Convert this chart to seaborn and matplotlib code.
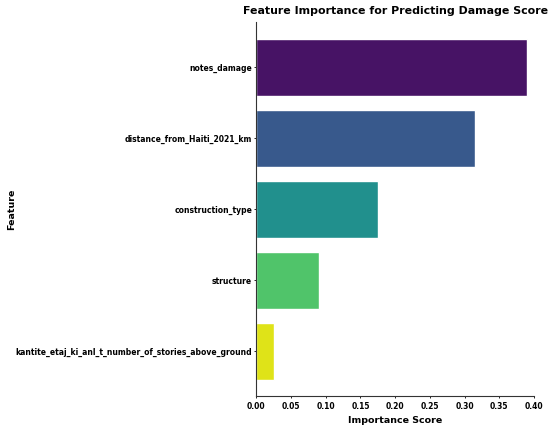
import numpy as np
import pandas as pd
import seaborn as sns
import matplotlib.pyplot as plt

features = ["notes_damage", "distance_from_Haiti_2021_km", "construction_type",
            "structure", "kantite_etaj_ki_anl_t_number_of_stories_above_ground"]
importance = [0.3905, 0.3155, 0.1755, 0.0903, 0.0250]

df = pd.DataFrame({"Feature": features, "Importance": importance})

sns.set_style("white")
plt.rcParams["font.family"] = ["DejaVu Sans"]
plt.rcParams["text.color"] = "black"
plt.rcParams["axes.labelcolor"] = "black"
plt.rcParams["xtick.color"] = "black"
plt.rcParams["ytick.color"] = "black"

fig = plt.figure(figsize=(5.5, 4.26), dpi=100)
ax = fig.add_axes([0.466, 0.0704, 0.505, 0.878])

# viridis, trimmed a little at both ends
colors = list(plt.cm.viridis(np.linspace(0.05, 0.95, 5)))
sns.barplot(data=df, x="Importance", y="Feature", hue="Feature",
            palette=colors, saturation=1, legend=False, ax=ax)

ticks = np.arange(0, 0.41, 0.05)
ax.set_xlim(0, 0.40)
ax.set_ylim(4.63, -0.64)
ax.set_xticks(ticks)
ax.set_xticklabels([f"{t:.2f}" for t in ticks], fontsize=5.5, fontweight="bold")
for lab in ax.get_yticklabels():
    lab.set_fontsize(5.5)
    lab.set_fontweight("bold")
ax.tick_params(axis="x", bottom=True, length=1.5, width=0.6, pad=2.5)
ax.tick_params(axis="y", left=True, length=1.5, width=0.6, pad=1.5)

ax.set_xlabel("Importance Score", fontsize=6.8, fontweight="bold", labelpad=4)
ax.set_ylabel("Feature", fontsize=6.8, fontweight="bold")
ax.yaxis.set_label_coords(-0.865, 0.5)
ax.set_title("Feature Importance for Predicting Damage Score",
             fontsize=7.9, fontweight="bold", pad=6)

for s in ["top", "right"]:
    ax.spines[s].set_visible(False)
for s in ["left", "bottom"]:
    ax.spines[s].set_color("#333333")
    ax.spines[s].set_linewidth(0.8)

fig.savefig("out.png", dpi=100)
